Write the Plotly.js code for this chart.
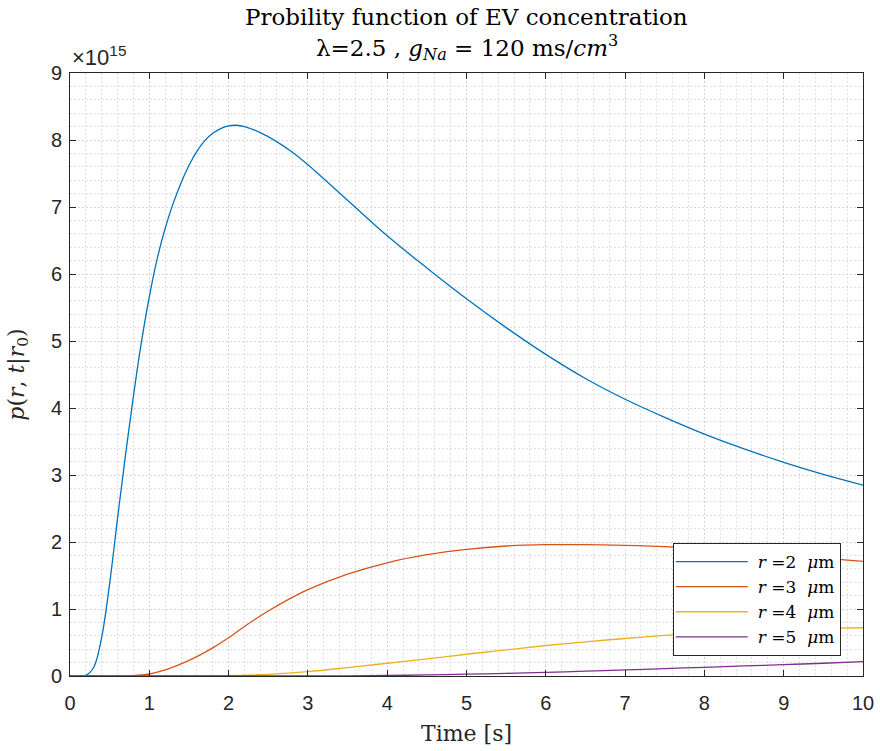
<!DOCTYPE html>
<html>
<head>
<meta charset="utf-8">
<script src="https://cdn.plot.ly/plotly-3.0.1.min.js"></script>
<style>html,body{margin:0;padding:0;background:#fff;}#chart{width:880px;height:751px;}</style>
</head>
<body>
<div id="chart"></div>
<script>
// values read in units of 1e15
const SCALE = 1e15;
const tBlue = [0, 0.1, 0.2, 0.3, 0.4, 0.5, 0.6, 0.7, 0.8, 0.9, 1.0, 1.1, 1.2, 1.3, 1.4, 1.5, 1.6, 1.7, 1.8, 1.9, 2.0, 2.1, 2.2, 2.4, 2.6, 2.8, 3.0, 3.5, 4.0, 4.5, 5.0, 5.5, 6.0, 6.5, 7.0, 7.5, 8.0, 8.5, 9.0, 9.5, 10];
const vBlue = [0, 0, 0.01, 0.13, 0.58, 1.38, 2.36, 3.3, 4.18, 4.98, 5.66, 6.23, 6.68, 7.05, 7.36, 7.62, 7.83, 7.99, 8.1, 8.17, 8.21, 8.22, 8.2, 8.11, 7.98, 7.82, 7.63, 7.1, 6.57, 6.09, 5.63, 5.2, 4.8, 4.44, 4.13, 3.86, 3.61, 3.39, 3.19, 3.01, 2.85];

const tOrange = [0, 0.5, 0.8, 1.0, 1.2, 1.4, 1.6, 1.8, 2.0, 2.25, 2.5, 2.75, 3.0, 3.5, 4.0, 4.5, 5.0, 5.5, 6.0, 6.5, 7.0, 7.5, 8.0, 8.5, 9.0, 9.5, 10];
const vOrange = [0, 0, 0.005, 0.03, 0.09, 0.18, 0.29, 0.42, 0.57, 0.78, 0.97, 1.14, 1.29, 1.52, 1.69, 1.81, 1.89, 1.94, 1.96, 1.96, 1.95, 1.93, 1.9, 1.86, 1.81, 1.76, 1.71];

const tYellow = [0, 1.5, 2.0, 2.5, 3.0, 3.5, 4.0, 4.5, 5.0, 5.5, 6.0, 6.5, 7.0, 7.5, 8.0, 8.5, 9.0, 9.5, 10];
const vYellow = [0, 0, 0.005, 0.025, 0.065, 0.125, 0.19, 0.255, 0.325, 0.39, 0.455, 0.51, 0.56, 0.605, 0.64, 0.67, 0.695, 0.71, 0.72];

const tPurple = [0, 3.0, 3.5, 4.0, 4.5, 5.0, 5.5, 6.0, 6.5, 7.0, 7.5, 8.0, 8.5, 9.0, 9.5, 10];
const vPurple = [0, 0, 0.003, 0.008, 0.016, 0.027, 0.04, 0.055, 0.072, 0.09, 0.11, 0.13, 0.15, 0.17, 0.19, 0.215];

const seriesNames = ['<i>r</i> =2  <i>μ</i>m', '<i>r</i> =3  <i>μ</i>m', '<i>r</i> =4  <i>μ</i>m', '<i>r</i> =5  <i>μ</i>m'];
const colors = ['#0072BD', '#D95319', '#EDB120', '#7E2F8E'];
const xTicks = [0,1,2,3,4,5,6,7,8,9,10];
const yTickLabels = ['0','1','2','3','4','5','6','7','8','9'];
const titleLine1 = 'Probility function of EV concentration';
const titleLine2 = 'λ=2.5 , <i>g</i><sub><i>Na</i></sub> = 120 ms/<i>cm</i><sup>3</sup>';

const sets = [[tBlue, vBlue], [tOrange, vOrange], [tYellow, vYellow], [tPurple, vPurple]];
const traces = sets.map((s, i) => ({
  x: s[0], y: s[1].map(v => v * SCALE), type: 'scatter', mode: 'lines',
  name: seriesNames[i],
  line: {color: colors[i], width: 1.3, shape: 'spline', smoothing: 1}
}));

const serif = 'DejaVu Serif, serif';
const sans = 'Liberation Sans, Arial, sans-serif';
const axisCommon = {
  showline: true, linecolor: '#262626', linewidth: 1, mirror: 'ticks',
  ticks: 'inside', ticklen: 6, tickcolor: '#262626', tickwidth: 1,
  showgrid: true, gridcolor: '#d6d6d6', griddash: '2px,2px', gridwidth: 1,
  zeroline: false,
  tickfont: {family: sans, size: 20, color: '#262626'}
};

const layout = {
  width: 880, height: 751,
  margin: {l: 70, r: 17, t: 73, b: 75},
  paper_bgcolor: '#fff', plot_bgcolor: '#fff',
  showlegend: true,
  xaxis: Object.assign({}, axisCommon, {
    range: [0, 10], tickvals: xTicks, ticktext: xTicks.map(String),
    ticklabelstandoff: 9,
    minor: {dtick: 0.2, showgrid: true, gridcolor: '#e0e0e0', griddash: '2px,2px', gridwidth: 1, ticks: ''},
    title: {text: 'Time [s]', font: {family: serif, size: 22, color: '#262626'}, standoff: 12}
  }),
  yaxis: Object.assign({}, axisCommon, {
    range: [0, 9 * SCALE], tickvals: yTickLabels.map((_, i) => i * SCALE), ticktext: yTickLabels,
    ticklabelstandoff: 3,
    minor: {dtick: 0.2 * SCALE, showgrid: true, gridcolor: '#e0e0e0', griddash: '2px,2px', gridwidth: 1, ticks: ''},
    title: {text: '<i>p</i>(<i>r</i>, <i>t</i>|<i>r</i><sub>0</sub>)', font: {family: serif, size: 22, color: '#262626'}, standoff: 20}
  }),
  legend: {
    x: 0.972, xanchor: 'right', y: 0.2206, yanchor: 'top',
    bgcolor: '#fff', bordercolor: '#262626', borderwidth: 1,
    font: {family: serif, size: 17, color: '#000'},
    itemwidth: 74, tracegroupgap: 0
  },
  annotations: [
    {xref: 'paper', yref: 'paper', x: 0.5, y: 1.0929, xanchor: 'center', yanchor: 'middle',
     text: titleLine1, showarrow: false, font: {family: serif, size: 23, color: '#000'}},
    {xref: 'paper', yref: 'paper', x: 0.5, y: 1.0415, xanchor: 'center', yanchor: 'middle',
     text: titleLine2, showarrow: false, font: {family: serif, size: 23, color: '#000'}},
    {xref: 'paper', yref: 'paper', x: 0, y: 1, xanchor: 'left', yanchor: 'bottom',
     text: '×10<sup>15</sup>', showarrow: false, yshift: 1, xshift: 0,
     font: {family: sans, size: 22, color: '#262626'}}
  ]
};

Plotly.newPlot('chart', traces, layout, {displayModeBar: false, staticPlot: true}).then(gd => {
  // lengthen legend line samples to match the MATLAB legend style
  gd.querySelectorAll('.legendlines path').forEach(p => p.setAttribute('d', 'M2,0h72'));
});
</script>
</body>
</html>
